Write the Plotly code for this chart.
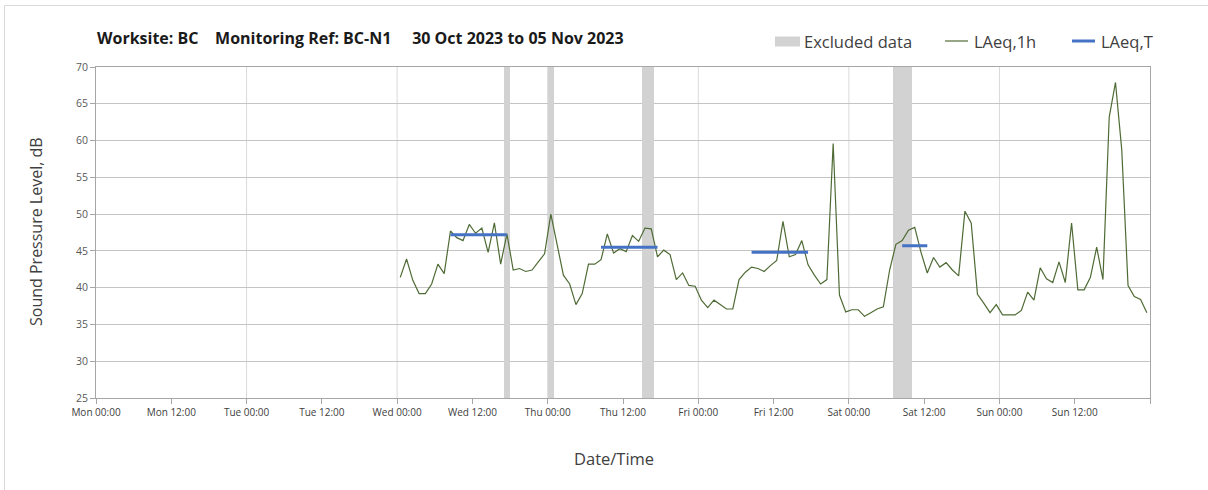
import pandas as pd
import plotly.graph_objects as go

# ---------------- data ----------------
series_start = "2023-11-01 00:30"   # first hourly point (Wed)
laeq_1h = [
    41.4, 43.9, 41.0, 39.2, 39.2, 40.5, 43.2, 41.9, 47.7, 46.8, 46.4, 48.6,
    47.4, 48.1, 44.8, 48.8, 43.2, 47.3, 42.4, 42.6, 42.2, 42.4, 43.5, 44.6,
    50.0, 45.9, 41.7, 40.5, 37.7, 39.2, 43.2, 43.2, 43.8, 47.3, 44.7, 45.3,
    44.9, 47.1, 46.3, 48.1, 48.0, 44.2, 45.1, 44.5, 41.1, 42.0, 40.3, 40.2,
    38.3, 37.3, 38.3, 37.7, 37.1, 37.1, 41.1, 42.1, 42.8, 42.6, 42.2, 43.0,
    43.7, 49.0, 44.2, 44.5, 46.4, 43.1, 41.7, 40.5, 41.1, 59.6, 39.0, 36.7,
    37.0, 37.0, 36.1, 36.6, 37.1, 37.4, 42.4, 45.9, 46.4, 47.8, 48.2, 44.8,
    42.0, 44.1, 42.8, 43.4, 42.4, 41.6, 50.4, 48.8, 39.1, 37.9, 36.6, 37.7,
    36.3, 36.3, 36.3, 36.9, 39.4, 38.3, 42.7, 41.2, 40.7, 43.5, 40.7, 48.8,
    39.7, 39.7, 41.4, 45.5, 41.1, 63.2, 67.9, 58.7, 40.3, 38.8, 38.4, 36.6,
]

excluded_start = ["2023-11-01 17:00", "2023-11-02 00:00", "2023-11-02 15:00", "2023-11-04 07:00"]
excluded_end = ["2023-11-01 18:00", "2023-11-02 01:00", "2023-11-02 17:00", "2023-11-04 10:00"]

laeqT_start = ["2023-11-01 08:30", "2023-11-02 08:30", "2023-11-03 08:30", "2023-11-04 08:30"]
laeqT_end = ["2023-11-01 17:30", "2023-11-02 17:30", "2023-11-03 17:30", "2023-11-04 12:30"]
laeqT_value = [47.2, 45.5, 44.8, 45.7]

x_range = ["2023-10-30 00:00", "2023-11-06 00:00"]
y_range = [25, 70]
tick_labels = [
    "Mon 00:00", "Mon 12:00", "Tue 00:00", "Tue 12:00", "Wed 00:00",
    "Wed 12:00", "Thu 00:00", "Thu 12:00", "Fri 00:00", "Fri 12:00",
    "Sat 00:00", "Sat 12:00", "Sun 00:00", "Sun 12:00", "",
]

title_text = ("Worksite: BC\u00a0\u00a0\u00a0\u00a0Monitoring Ref: BC-N1"
              "\u00a0\u00a0\u00a0\u00a0\u00a030 Oct 2023 to 05 Nov 2023")

# ---------------- derived ----------------
times = pd.date_range(series_start, periods=len(laeq_1h), freq="h")
tick_times = pd.date_range(x_range[0], x_range[1], freq="12h")
ex_s = pd.to_datetime(excluded_start)
ex_e = pd.to_datetime(excluded_end)
ex_mid = ex_s + (ex_e - ex_s) / 2
ex_width = [(e - s).total_seconds() * 1000 for s, e in zip(ex_s, ex_e)]

tx, ty = [], []
for s, e, v in zip(laeqT_start, laeqT_end, laeqT_value):
    tx += [s, e, None]
    ty += [v, v, None]

# layout geometry (pixels)
W, H = 1208, 490
L, R, T, B = 96, 1150, 67, 398


def px(x):
    return (x - L) / (R - L)


def py(y):
    return (B - y) / (B - T)


GREEN = "#4f6b35"
BLUE = "#4472c4"
GREY = "#d2d2d2"
FONT = "Open Sans"

fig = go.Figure()
fig.add_trace(go.Bar(
    x=ex_mid, y=[y_range[1] - y_range[0]] * len(ex_mid), base=y_range[0],
    width=ex_width, marker=dict(color=GREY, line=dict(width=0)),
    name="Excluded data", showlegend=False, hoverinfo="skip",
))
fig.add_trace(go.Scatter(
    x=times, y=laeq_1h, mode="lines", name="LAeq,1h",
    line=dict(color=GREEN, width=1.2), showlegend=False,
))
fig.add_trace(go.Scatter(
    x=tx, y=ty, mode="lines", name="LAeq,T",
    line=dict(color=BLUE, width=3), showlegend=False,
))

fig.update_layout(
    width=W, height=H,
    margin=dict(l=L, r=W - R, t=T, b=H - B, pad=0),
    paper_bgcolor="white", plot_bgcolor="white",
    font=dict(family=FONT, color="#404040"),
    bargap=0,
    showlegend=False,
)
fig.update_xaxes(
    type="date", range=x_range,
    tickvals=tick_times, ticktext=tick_labels,
    ticks="outside", ticklen=5, tickcolor="#a6a6a6",
    tickfont=dict(size=10, color="#404040"),
    showgrid=False,
    showline=True, linecolor="#a6a6a6", linewidth=1, mirror=True,
    zeroline=False,
)
fig.update_yaxes(
    range=y_range, dtick=5, tick0=25,
    ticks="outside", ticklen=5, tickcolor="#a6a6a6",
    tickfont=dict(size=10.5, color="#595959"),
    showgrid=True, gridcolor="#c4c4c4", gridwidth=1,
    showline=True, linecolor="#a6a6a6", linewidth=1, mirror=True,
    zeroline=False,
)

shapes = []
# daily vertical gridlines
for t in pd.date_range("2023-10-31", "2023-11-05", freq="D"):
    shapes.append(dict(type="line", xref="x", yref="paper", x0=t, x1=t, y0=0, y1=1,
                       line=dict(color="#d9d9d9", width=1), layer="below"))
# outer frame (partially visible)
shapes.append(dict(type="line", xref="paper", yref="paper", x0=px(4.5), x1=px(W + 5),
                   y0=py(5.5), y1=py(5.5), line=dict(color="#d9d9d9", width=1)))
shapes.append(dict(type="line", xref="paper", yref="paper", x0=px(4.5), x1=px(4.5),
                   y0=py(5.5), y1=py(H + 5), line=dict(color="#d9d9d9", width=1)))
# legend symbols
LEG_Y = 41
shapes.append(dict(type="rect", xref="paper", yref="paper", x0=px(775), x1=px(800),
                   y0=py(46.5), y1=py(36.5), fillcolor=GREY, line=dict(width=0)))
shapes.append(dict(type="line", xref="paper", yref="paper", x0=px(945), x1=px(968),
                   y0=py(LEG_Y), y1=py(LEG_Y), line=dict(color=GREEN, width=1.2)))
shapes.append(dict(type="line", xref="paper", yref="paper", x0=px(1072), x1=px(1095),
                   y0=py(LEG_Y), y1=py(LEG_Y), line=dict(color=BLUE, width=3)))
fig.update_layout(shapes=shapes)

ann = [
    dict(text=title_text, x=px(95), y=py(38), xref="paper", yref="paper",
         xanchor="left", yanchor="middle", showarrow=False,
         font=dict(size=16, color="#1a1a1a", family=FONT, weight="bold")),
    dict(text="Excluded data", x=px(802), y=py(LEG_Y), xref="paper", yref="paper",
         xanchor="left", yanchor="middle", showarrow=False, font=dict(size=16.5, color="#404040")),
    dict(text="LAeq,1h", x=px(972), y=py(LEG_Y), xref="paper", yref="paper",
         xanchor="left", yanchor="middle", showarrow=False, font=dict(size=16.5, color="#404040")),
    dict(text="LAeq,T", x=px(1099), y=py(LEG_Y), xref="paper", yref="paper",
         xanchor="left", yanchor="middle", showarrow=False, font=dict(size=16.5, color="#404040")),
    dict(text="Date/Time", x=px(614), y=py(458), xref="paper", yref="paper",
         xanchor="center", yanchor="middle", showarrow=False, font=dict(size=16.5, color="#404040")),
    dict(text="Sound Pressure Level, dB", x=px(36), y=py(232), xref="paper", yref="paper",
         xanchor="center", yanchor="middle", textangle=-90, showarrow=False,
         font=dict(size=16, color="#404040")),
]
fig.update_layout(annotations=ann)

fig.write_html("out.html", config={"displayModeBar": False},
               post_script="document.body.style.margin='0';")
